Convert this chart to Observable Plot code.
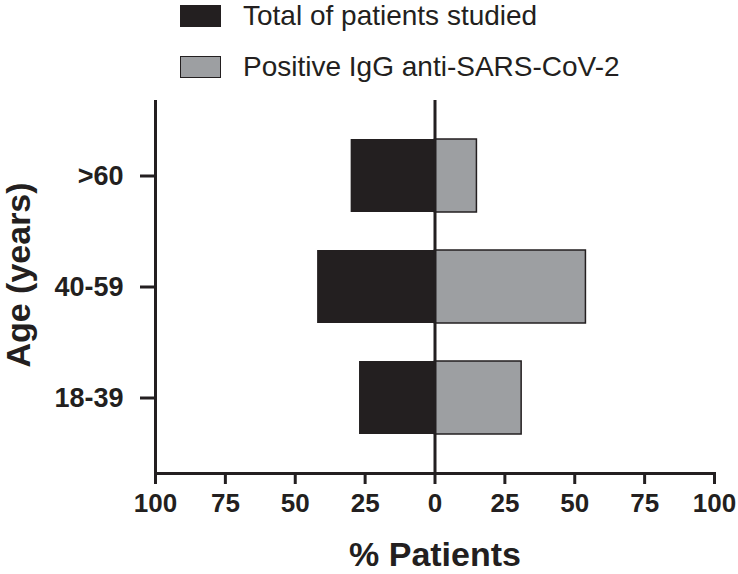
<!DOCTYPE html>
<html>
<head>
<meta charset="utf-8">
<script src="https://cdn.jsdelivr.net/npm/d3@7"></script>
<script src="https://cdn.jsdelivr.net/npm/@observablehq/plot@0.6"></script>
<style>
  html, body { margin: 0; padding: 0; background: #fff; }
  body { width: 738px; height: 574px; overflow: hidden; font-family: "Liberation Sans", Arial, sans-serif; color: #231f20; }
  #legend { position: relative; height: 92px; }
  .item { position: absolute; left: 180px; display: flex; align-items: center; }
  .sw { width: 41px; height: 22px; box-sizing: border-box; border: 1.5px solid #231f20; margin-right: 22px; }
  .lab { font-size: 28px; line-height: 28px; }
</style>
</head>
<body>
<div id="legend"></div>
<div id="chart"></div>
<script>
const ageGroups = [">60", "40-59", "18-39"];
const totalStudied = [30, 42, 27];      // % patients studied (drawn to the left)
const positiveIgG = [15, 54, 31];       // % positive IgG anti-SARS-CoV-2 (drawn to the right)
const xTicks = [-100, -75, -50, -25, 0, 25, 50, 75, 100];
const seriesNames = ["Total of patients studied", "Positive IgG anti-SARS-CoV-2"];
const seriesColors = ["#231f20", "#9d9fa2"];

const ink = "#231f20";

// legend
const legend = document.getElementById("legend");
seriesNames.forEach((name, i) => {
  const item = document.createElement("div");
  item.className = "item";
  item.style.top = (i === 0 ? 2 : 53) + "px";
  item.innerHTML = `<div class="sw" style="background:${seriesColors[i]}"></div><div class="lab">${name}</div>`;
  legend.appendChild(item);
});

const left = ageGroups.map((a, i) => ({age: a, value: -totalStudied[i]}));
const right = ageGroups.map((a, i) => ({age: a, value: positiveIgG[i]}));

const chart = Plot.plot({
  width: 738,
  height: 482,
  marginTop: 8,
  marginBottom: 101,
  marginLeft: 155,
  marginRight: 24,
  style: {fontFamily: "'Liberation Sans', Arial, sans-serif", color: ink, background: "#fff"},
  x: {domain: [-100, 100]},
  y: {domain: ageGroups, paddingInner: 0.34, paddingOuter: 0.34},
  marks: [
    Plot.barX(left, {x: "value", y: "age", fill: seriesColors[0]}),
    Plot.barX(right, {x: "value", y: "age", fill: seriesColors[1], stroke: ink, strokeWidth: 1.5}),
    Plot.ruleX([0], {stroke: ink, strokeWidth: 3}),
    Plot.ruleX([-100], {stroke: ink, strokeWidth: 3}),
    Plot.frame({anchor: "bottom", stroke: ink, strokeWidth: 3}),
    Plot.axisX({
      ticks: xTicks, tickFormat: d => Math.abs(d), tickSize: 11, tickPadding: 9,
      fontSize: 26, fontWeight: "bold", strokeWidth: 3, stroke: ink,
      label: "% Patients", labelAnchor: "center", labelArrow: "none", labelOffset: 92
    }),
    Plot.axisY({
      tickSize: 15, tickPadding: 17, fontSize: 27, fontWeight: "bold", strokeWidth: 3, stroke: ink,
      label: "Age (years)", labelAnchor: "center", labelArrow: "none", labelOffset: 150
    })
  ]
});
document.getElementById("chart").appendChild(chart);

// larger axis titles
d3.select(chart).selectAll('[aria-label="x-axis label"] text').style("font-size", "34px").style("font-weight", "bold");
const yLab = d3.select(chart).select('[aria-label="y-axis label"]');
yLab.selectAll("text").style("font-size", "34px").style("font-weight", "bold");
yLab.attr("transform", "translate(0,-12) " + (yLab.attr("transform") || ""));
</script>
</body>
</html>
